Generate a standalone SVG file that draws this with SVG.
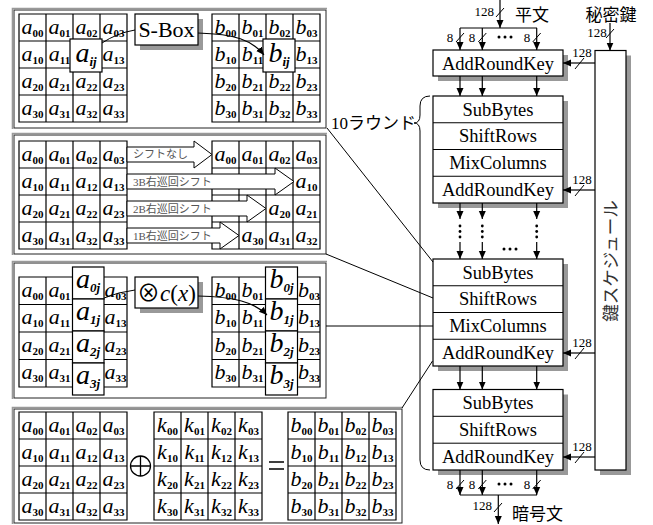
<svg xmlns="http://www.w3.org/2000/svg" width="653" height="525" viewBox="0 0 653 525">
<defs>
<marker id="ah" markerWidth="9" markerHeight="9" refX="8" refY="4" orient="auto" markerUnits="userSpaceOnUse"><path d="M0,0.5 L8,4 L0,7.5 z" fill="#000"/></marker>
<style>
text{font-family:"Liberation Serif","Noto Sans CJK JP",serif;fill:#000}
.cl text{font-size:22px;font-style:italic;text-anchor:middle}
.s{font-size:11px;font-style:normal;font-weight:bold}
.bs{font-size:13px;font-weight:bold}
.cl text.big{font-size:28px}
.grid{fill:none;stroke:#000;stroke-width:1.2}
.frame{fill:#fff;stroke:#222;stroke-width:1}
.frame2{fill:none;stroke:#999;stroke-width:1.6}
.box{fill:#fff;stroke:#000;stroke-width:1.2}
.sh{fill:#999}
.op{font-size:18.5px;text-anchor:middle}
.n{font-size:13px}
.ln{fill:none;stroke:#000;stroke-width:1}
.ar{fill:none;stroke:#000;stroke-width:1.2;marker-end:url(#ah)}
.jp{font-family:"Noto Sans CJK JP",sans-serif}
.sa{fill:#fff;stroke:#000;stroke-width:1}
.st{font-size:11px;fill:#555}
.dot{fill:#000}
</style>
</defs>

<!-- Panel 1: SubBytes -->
<g id="panel-subbytes">
<rect class="frame" x="14" y="10" width="312" height="118"/>
<path class="frame2" d="M12.5,129 V8.5 H327"/>
<path class="grid" d="M19,14h108v108h-108z M46,14v108 M73,14v108 M100,14v108 M19,41h108 M19,68h108 M19,95h108"/>
<path class="grid" d="M212,14h108v108h-108z M239,14v108 M266,14v108 M293,14v108 M212,41h108 M212,68h108 M212,95h108"/>
<g class="cl">
<text x="32.5" y="33.5">a<tspan class="s" dy="3">00</tspan></text>
<text x="59.5" y="33.5">a<tspan class="s" dy="3">01</tspan></text>
<text x="86.5" y="33.5">a<tspan class="s" dy="3">02</tspan></text>
<text x="113.5" y="33.5">a<tspan class="s" dy="3">03</tspan></text>
<text x="32.5" y="60.5">a<tspan class="s" dy="3">10</tspan></text>
<text x="59.5" y="60.5">a<tspan class="s" dy="3">11</tspan></text>
<text x="113.5" y="60.5">a<tspan class="s" dy="3">13</tspan></text>
<text x="32.5" y="87.5">a<tspan class="s" dy="3">20</tspan></text>
<text x="59.5" y="87.5">a<tspan class="s" dy="3">21</tspan></text>
<text x="86.5" y="87.5">a<tspan class="s" dy="3">22</tspan></text>
<text x="113.5" y="87.5">a<tspan class="s" dy="3">23</tspan></text>
<text x="32.5" y="114.5">a<tspan class="s" dy="3">30</tspan></text>
<text x="59.5" y="114.5">a<tspan class="s" dy="3">31</tspan></text>
<text x="86.5" y="114.5">a<tspan class="s" dy="3">32</tspan></text>
<text x="113.5" y="114.5">a<tspan class="s" dy="3">33</tspan></text>
<text x="225.5" y="33.5">b<tspan class="s" dy="3">00</tspan></text>
<text x="252.5" y="33.5">b<tspan class="s" dy="3">01</tspan></text>
<text x="279.5" y="33.5">b<tspan class="s" dy="3">02</tspan></text>
<text x="306.5" y="33.5">b<tspan class="s" dy="3">03</tspan></text>
<text x="225.5" y="60.5">b<tspan class="s" dy="3">10</tspan></text>
<text x="252.5" y="60.5">b<tspan class="s" dy="3">11</tspan></text>
<text x="306.5" y="60.5">b<tspan class="s" dy="3">13</tspan></text>
<text x="225.5" y="87.5">b<tspan class="s" dy="3">20</tspan></text>
<text x="252.5" y="87.5">b<tspan class="s" dy="3">21</tspan></text>
<text x="279.5" y="87.5">b<tspan class="s" dy="3">22</tspan></text>
<text x="306.5" y="87.5">b<tspan class="s" dy="3">23</tspan></text>
<text x="225.5" y="114.5">b<tspan class="s" dy="3">30</tspan></text>
<text x="252.5" y="114.5">b<tspan class="s" dy="3">31</tspan></text>
<text x="279.5" y="114.5">b<tspan class="s" dy="3">32</tspan></text>
<text x="306.5" y="114.5">b<tspan class="s" dy="3">33</tspan></text>
<rect class="box" x="70" y="39" width="32" height="33"/>
<text class="big" x="86" y="62">a<tspan class="bs" dy="4">ij</tspan></text>
<rect class="box" x="263" y="39" width="32" height="33"/>
<text class="big" x="279" y="62">b<tspan class="bs" dy="4">ij</tspan></text>
</g>
<rect class="sh" x="140" y="19" width="63" height="31"/>
<rect class="box" x="135" y="14" width="63" height="31"/>
<text x="166.5" y="37" style="font-size:22px;text-anchor:middle">S-Box</text>
<path class="ln" d="M102,43 Q117,33 135,30"/>
<path class="ar" d="M198,33 C235,34 252,40 264,55"/>
</g>

<!-- Panel 2: ShiftRows -->
<g id="panel-shiftrows">
<rect class="frame" x="14" y="135" width="312" height="119"/>
<path class="frame2" d="M12.5,255 V133.5 H327"/>
<path class="grid" d="M19,141h108v108h-108z M46,141v108 M73,141v108 M100,141v108 M19,168h108 M19,195h108 M19,222h108"/>
<path class="grid" d="M212,141h108v108h-108z M239,141v108 M266,141v108 M293,141v108 M212,168h108 M212,195h108 M212,222h108"/>
<g class="cl">
<text x="32.5" y="160.5">a<tspan class="s" dy="3">00</tspan></text>
<text x="59.5" y="160.5">a<tspan class="s" dy="3">01</tspan></text>
<text x="86.5" y="160.5">a<tspan class="s" dy="3">02</tspan></text>
<text x="113.5" y="160.5">a<tspan class="s" dy="3">03</tspan></text>
<text x="32.5" y="187.5">a<tspan class="s" dy="3">10</tspan></text>
<text x="59.5" y="187.5">a<tspan class="s" dy="3">11</tspan></text>
<text x="86.5" y="187.5">a<tspan class="s" dy="3">12</tspan></text>
<text x="113.5" y="187.5">a<tspan class="s" dy="3">13</tspan></text>
<text x="32.5" y="214.5">a<tspan class="s" dy="3">20</tspan></text>
<text x="59.5" y="214.5">a<tspan class="s" dy="3">21</tspan></text>
<text x="86.5" y="214.5">a<tspan class="s" dy="3">22</tspan></text>
<text x="113.5" y="214.5">a<tspan class="s" dy="3">23</tspan></text>
<text x="32.5" y="241.5">a<tspan class="s" dy="3">30</tspan></text>
<text x="59.5" y="241.5">a<tspan class="s" dy="3">31</tspan></text>
<text x="86.5" y="241.5">a<tspan class="s" dy="3">32</tspan></text>
<text x="113.5" y="241.5">a<tspan class="s" dy="3">33</tspan></text>
<text x="225.5" y="160.5">a<tspan class="s" dy="3">00</tspan></text>
<text x="252.5" y="160.5">a<tspan class="s" dy="3">01</tspan></text>
<text x="279.5" y="160.5">a<tspan class="s" dy="3">02</tspan></text>
<text x="306.5" y="160.5">a<tspan class="s" dy="3">03</tspan></text>
<text x="306.5" y="187.5">a<tspan class="s" dy="3">10</tspan></text>
<text x="279.5" y="214.5">a<tspan class="s" dy="3">20</tspan></text>
<text x="306.5" y="214.5">a<tspan class="s" dy="3">21</tspan></text>
<text x="252.5" y="241.5">a<tspan class="s" dy="3">30</tspan></text>
<text x="279.5" y="241.5">a<tspan class="s" dy="3">31</tspan></text>
<text x="306.5" y="241.5">a<tspan class="s" dy="3">32</tspan></text>
</g>
<polygon class="sa" points="127,147 194,147 194,141 212,154.5 194,168 194,162 127,162"/>
<polygon class="sa" points="127,174 275,174 275,168 294,181.5 275,195 275,189 127,189"/>
<polygon class="sa" points="127,201 247,201 247,195 266,208.5 247,222 247,216 127,216"/>
<polygon class="sa" points="127,228 220,228 220,222 239,235.5 220,249 220,243 127,243"/>
<text class="st jp" x="133" y="158">シフトなし</text>
<text class="st" x="133" y="185.5">3B<tspan class="jp">右巡回シフト</tspan></text>
<text class="st" x="133" y="212.5">2B<tspan class="jp">右巡回シフト</tspan></text>
<text class="st" x="133" y="239.5">1B<tspan class="jp">右巡回シフト</tspan></text>
</g>

<!-- Panel 3: MixColumns -->
<g id="panel-mixcolumns">
<rect class="frame" x="14" y="263" width="312" height="135"/>
<path class="frame2" d="M12.5,399 V261.5 H327"/>
<path class="grid" d="M19,277h108v110h-108z M46,277v110 M73,277v110 M100,277v110 M19,304.5h108 M19,332h108 M19,359.5h108"/>
<path class="grid" d="M212,277h108v110h-108z M239,277v110 M266,277v110 M293,277v110 M212,304.5h108 M212,332h108 M212,359.5h108"/>
<g class="cl">
<text x="32.5" y="296.5">a<tspan class="s" dy="3">00</tspan></text>
<text x="59.5" y="296.5">a<tspan class="s" dy="3">01</tspan></text>
<text x="115.5" y="296.5">a<tspan class="s" dy="3">03</tspan></text>
<text x="32.5" y="324">a<tspan class="s" dy="3">10</tspan></text>
<text x="59.5" y="324">a<tspan class="s" dy="3">11</tspan></text>
<text x="115.5" y="324">a<tspan class="s" dy="3">13</tspan></text>
<text x="32.5" y="351.5">a<tspan class="s" dy="3">20</tspan></text>
<text x="59.5" y="351.5">a<tspan class="s" dy="3">21</tspan></text>
<text x="115.5" y="351.5">a<tspan class="s" dy="3">23</tspan></text>
<text x="32.5" y="379">a<tspan class="s" dy="3">30</tspan></text>
<text x="59.5" y="379">a<tspan class="s" dy="3">31</tspan></text>
<text x="115.5" y="379">a<tspan class="s" dy="3">33</tspan></text>
<text x="225.5" y="296.5">b<tspan class="s" dy="3">00</tspan></text>
<text x="252.5" y="296.5">b<tspan class="s" dy="3">01</tspan></text>
<text x="309" y="296.5">b<tspan class="s" dy="3">03</tspan></text>
<text x="225.5" y="324">b<tspan class="s" dy="3">10</tspan></text>
<text x="252.5" y="324">b<tspan class="s" dy="3">11</tspan></text>
<text x="309" y="324">b<tspan class="s" dy="3">13</tspan></text>
<text x="225.5" y="351.5">b<tspan class="s" dy="3">20</tspan></text>
<text x="252.5" y="351.5">b<tspan class="s" dy="3">21</tspan></text>
<text x="309" y="351.5">b<tspan class="s" dy="3">23</tspan></text>
<text x="225.5" y="379">b<tspan class="s" dy="3">30</tspan></text>
<text x="252.5" y="379">b<tspan class="s" dy="3">31</tspan></text>
<text x="309" y="379">b<tspan class="s" dy="3">33</tspan></text>
<rect class="box" x="72.5" y="267" width="31.5" height="32"/>
<rect class="box" x="72.5" y="299" width="31.5" height="32"/>
<rect class="box" x="72.5" y="331" width="31.5" height="32"/>
<rect class="box" x="72.5" y="363" width="31.5" height="32"/>
<text class="big" x="88" y="288">a<tspan class="bs" dy="4">0j</tspan></text>
<text class="big" x="88" y="320">a<tspan class="bs" dy="4">1j</tspan></text>
<text class="big" x="88" y="352">a<tspan class="bs" dy="4">2j</tspan></text>
<text class="big" x="88" y="384">a<tspan class="bs" dy="4">3j</tspan></text>
<rect class="box" x="265.5" y="267" width="32" height="32"/>
<rect class="box" x="265.5" y="299" width="32" height="32"/>
<rect class="box" x="265.5" y="331" width="32" height="32"/>
<rect class="box" x="265.5" y="363" width="32" height="32"/>
<text class="big" x="281.5" y="288">b<tspan class="bs" dy="4">0j</tspan></text>
<text class="big" x="281.5" y="320">b<tspan class="bs" dy="4">1j</tspan></text>
<text class="big" x="281.5" y="352">b<tspan class="bs" dy="4">2j</tspan></text>
<text class="big" x="281.5" y="384">b<tspan class="bs" dy="4">3j</tspan></text>
</g>
<rect class="sh" x="140" y="282" width="63" height="31"/>
<rect class="box" x="135" y="277" width="63" height="31"/>
<text x="166.5" y="301" style="font-size:23px;text-anchor:middle">⊗<tspan font-style="italic">c</tspan>(<tspan font-style="italic">x</tspan>)</text>
<path class="ln" d="M104,298 Q118,292 135,290"/>
<path class="ar" d="M198,296 C235,297 254,302 267,315"/>
</g>

<!-- Panel 4: AddRoundKey -->
<g id="panel-addroundkey">
<rect class="frame" x="14" y="409" width="388" height="114"/>
<path class="frame2" d="M12.5,524 V407.5 H403"/>
<path class="grid" d="M19,412h108v108h-108z M46,412v108 M73,412v108 M100,412v108 M19,439h108 M19,466h108 M19,493h108"/>
<path class="grid" d="M154,412h108v108h-108z M181,412v108 M208,412v108 M235,412v108 M154,439h108 M154,466h108 M154,493h108"/>
<path class="grid" d="M288,412h108v108h-108z M315,412v108 M342,412v108 M369,412v108 M288,439h108 M288,466h108 M288,493h108"/>
<g class="cl">
<text x="32.5" y="431.5">a<tspan class="s" dy="3">00</tspan></text>
<text x="59.5" y="431.5">a<tspan class="s" dy="3">01</tspan></text>
<text x="86.5" y="431.5">a<tspan class="s" dy="3">02</tspan></text>
<text x="113.5" y="431.5">a<tspan class="s" dy="3">03</tspan></text>
<text x="32.5" y="458.5">a<tspan class="s" dy="3">10</tspan></text>
<text x="59.5" y="458.5">a<tspan class="s" dy="3">11</tspan></text>
<text x="86.5" y="458.5">a<tspan class="s" dy="3">12</tspan></text>
<text x="113.5" y="458.5">a<tspan class="s" dy="3">13</tspan></text>
<text x="32.5" y="485.5">a<tspan class="s" dy="3">20</tspan></text>
<text x="59.5" y="485.5">a<tspan class="s" dy="3">21</tspan></text>
<text x="86.5" y="485.5">a<tspan class="s" dy="3">22</tspan></text>
<text x="113.5" y="485.5">a<tspan class="s" dy="3">23</tspan></text>
<text x="32.5" y="512.5">a<tspan class="s" dy="3">30</tspan></text>
<text x="59.5" y="512.5">a<tspan class="s" dy="3">31</tspan></text>
<text x="86.5" y="512.5">a<tspan class="s" dy="3">32</tspan></text>
<text x="113.5" y="512.5">a<tspan class="s" dy="3">33</tspan></text>
<text x="167.5" y="431.5">k<tspan class="s" dy="3">00</tspan></text>
<text x="194.5" y="431.5">k<tspan class="s" dy="3">01</tspan></text>
<text x="221.5" y="431.5">k<tspan class="s" dy="3">02</tspan></text>
<text x="248.5" y="431.5">k<tspan class="s" dy="3">03</tspan></text>
<text x="167.5" y="458.5">k<tspan class="s" dy="3">10</tspan></text>
<text x="194.5" y="458.5">k<tspan class="s" dy="3">11</tspan></text>
<text x="221.5" y="458.5">k<tspan class="s" dy="3">12</tspan></text>
<text x="248.5" y="458.5">k<tspan class="s" dy="3">13</tspan></text>
<text x="167.5" y="485.5">k<tspan class="s" dy="3">20</tspan></text>
<text x="194.5" y="485.5">k<tspan class="s" dy="3">21</tspan></text>
<text x="221.5" y="485.5">k<tspan class="s" dy="3">22</tspan></text>
<text x="248.5" y="485.5">k<tspan class="s" dy="3">23</tspan></text>
<text x="167.5" y="512.5">k<tspan class="s" dy="3">30</tspan></text>
<text x="194.5" y="512.5">k<tspan class="s" dy="3">31</tspan></text>
<text x="221.5" y="512.5">k<tspan class="s" dy="3">32</tspan></text>
<text x="248.5" y="512.5">k<tspan class="s" dy="3">33</tspan></text>
<text x="301.5" y="431.5">b<tspan class="s" dy="3">00</tspan></text>
<text x="328.5" y="431.5">b<tspan class="s" dy="3">01</tspan></text>
<text x="355.5" y="431.5">b<tspan class="s" dy="3">02</tspan></text>
<text x="382.5" y="431.5">b<tspan class="s" dy="3">03</tspan></text>
<text x="301.5" y="458.5">b<tspan class="s" dy="3">10</tspan></text>
<text x="328.5" y="458.5">b<tspan class="s" dy="3">11</tspan></text>
<text x="355.5" y="458.5">b<tspan class="s" dy="3">12</tspan></text>
<text x="382.5" y="458.5">b<tspan class="s" dy="3">13</tspan></text>
<text x="301.5" y="485.5">b<tspan class="s" dy="3">20</tspan></text>
<text x="328.5" y="485.5">b<tspan class="s" dy="3">21</tspan></text>
<text x="355.5" y="485.5">b<tspan class="s" dy="3">22</tspan></text>
<text x="382.5" y="485.5">b<tspan class="s" dy="3">23</tspan></text>
<text x="301.5" y="512.5">b<tspan class="s" dy="3">30</tspan></text>
<text x="328.5" y="512.5">b<tspan class="s" dy="3">31</tspan></text>
<text x="355.5" y="512.5">b<tspan class="s" dy="3">32</tspan></text>
<text x="382.5" y="512.5">b<tspan class="s" dy="3">33</tspan></text>
</g>
<circle cx="140.5" cy="466" r="10" fill="none" stroke="#000" stroke-width="1.3"/>
<path d="M130.5,466 h20 M140.5,456 v20" stroke="#000" stroke-width="1.3"/>
<path d="M269,462 h15 M269,469 h15" stroke="#000" stroke-width="1.6"/>
</g>

<!-- Right column nodes -->
<g id="input">
<text x="494" y="16" class="n" text-anchor="end">128</text>
<text x="515" y="21" class="jp" style="font-size:17px">平文</text>
<text x="450" y="42" class="n" text-anchor="middle">8</text>
<text x="472" y="42" class="n" text-anchor="middle">8</text>
<text x="527" y="42" class="n" text-anchor="middle">8</text>
<circle class="dot" cx="499" cy="37" r="1.5"/><circle class="dot" cx="505" cy="37" r="1.5"/><circle class="dot" cx="511" cy="37" r="1.5"/>
</g>
<g id="key">
<text x="611" y="21" class="jp" style="font-size:17px;text-anchor:middle">秘密鍵</text>
<text x="597" y="37" class="n" text-anchor="middle">128</text>
</g>
<g id="ark0">
<rect class="sh" x="438" y="55" width="130" height="26"/>
<rect class="box" x="433" y="50" width="130" height="26"/>
<text class="op" x="498" y="69.5">AddRoundKey</text>
</g>
<g id="round1">
<rect class="sh" x="438" y="101" width="130" height="107"/>
<rect class="box" x="433" y="96" width="130" height="107"/>
<path class="ln" d="M433,122.75h130 M433,149.5h130 M433,176.25h130"/>
<text class="op" x="498" y="115.5">SubBytes</text>
<text class="op" x="498" y="142.3">ShiftRows</text>
<text class="op" x="498" y="169">MixColumns</text>
<text class="op" x="498" y="196">AddRoundKey</text>
</g>
<g id="round2">
<rect class="sh" x="438" y="264" width="130" height="107"/>
<rect class="box" x="433" y="259" width="130" height="107"/>
<path class="ln" d="M433,285.75h130 M433,312.5h130 M433,339.25h130"/>
<text class="op" x="498" y="278.5">SubBytes</text>
<text class="op" x="498" y="305.3">ShiftRows</text>
<text class="op" x="498" y="332">MixColumns</text>
<text class="op" x="498" y="359">AddRoundKey</text>
</g>
<g id="round-final">
<rect class="sh" x="438" y="394.5" width="130" height="80.5"/>
<rect class="box" x="433" y="389.5" width="130" height="80.5"/>
<path class="ln" d="M433,416.3h130 M433,443.2h130"/>
<text class="op" x="498" y="409">SubBytes</text>
<text class="op" x="498" y="436">ShiftRows</text>
<text class="op" x="498" y="463">AddRoundKey</text>
</g>
<g id="keyschedule">
<rect class="sh" x="600" y="55.5" width="31" height="419.5"/>
<rect class="box" x="595" y="50.5" width="31" height="419.5"/>
<text class="jp" transform="translate(617,261) rotate(-90)" style="font-size:17.5px;text-anchor:middle;fill:#333">鍵スケジュール</text>
</g>
<g id="rounds-label">
<text x="416" y="129" style="font-size:17px;text-anchor:end">10<tspan class="jp">ラウンド</tspan></text>
<path class="ln" d="M430,96 Q420,96 420,106 L420,115 Q420,123 414,123 Q420,123 420,131 L420,460 Q420,470 430,470"/>
</g>
<g id="output">
<text x="450" y="489" class="n" text-anchor="middle">8</text>
<text x="472" y="489" class="n" text-anchor="middle">8</text>
<text x="527" y="489" class="n" text-anchor="middle">8</text>
<circle class="dot" cx="499" cy="484" r="1.5"/><circle class="dot" cx="505" cy="484" r="1.5"/><circle class="dot" cx="511" cy="484" r="1.5"/>
<text x="492" y="510" class="n" text-anchor="end">128</text>
<text x="512" y="520" class="jp" style="font-size:17px">暗号文</text>
</g>

<!-- Connectors -->
<g id="connectors">
<path class="ar" d="M500,0 V28"/>
<path class="ln" d="M496,17 L504,8"/>
<path class="ln" d="M460,28 H537"/>
<path class="ar" d="M460,28 V50"/>
<path class="ar" d="M482.3,28 V50"/>
<path class="ar" d="M536.7,28 V50"/>
<path class="ln" d="M456,42 L464,33 M478.3,42 L486.3,33 M532.7,42 L540.7,33"/>
<path class="ar" d="M610,23 V50.5"/>
<path class="ln" d="M606,38 L614,29"/>
<path class="ar" d="M460,76 V96"/>
<path class="ar" d="M482.3,76 V96"/>
<path class="ar" d="M536.7,76 V96"/>
<path class="ar" d="M595,63 H563"/>
<path class="ln" d="M575,69 L584,58"/>
<text x="582" y="57" class="n" text-anchor="middle">128</text>
<path class="ar" d="M595,190 H563"/>
<path class="ln" d="M575,196 L584,185"/>
<text x="582" y="184" class="n" text-anchor="middle">128</text>
<path class="ar" d="M595,353 H563"/>
<path class="ln" d="M575,359 L584,348"/>
<text x="582" y="347" class="n" text-anchor="middle">128</text>
<path class="ar" d="M595,457 H563"/>
<path class="ln" d="M575,463 L584,452"/>
<text x="582" y="451" class="n" text-anchor="middle">128</text>
<path class="ar" d="M460,203 V219"/>
<path class="ar" d="M482.3,203 V219"/>
<path class="ar" d="M536.7,203 V219"/>
<circle class="dot" cx="460" cy="226" r="1.4"/><circle class="dot" cx="460" cy="231.5" r="1.4"/><circle class="dot" cx="460" cy="237" r="1.4"/>
<circle class="dot" cx="482.3" cy="226" r="1.4"/><circle class="dot" cx="482.3" cy="231.5" r="1.4"/><circle class="dot" cx="482.3" cy="237" r="1.4"/>
<circle class="dot" cx="536.7" cy="226" r="1.4"/><circle class="dot" cx="536.7" cy="231.5" r="1.4"/><circle class="dot" cx="536.7" cy="237" r="1.4"/>
<path class="ar" d="M460,242 V259"/>
<path class="ar" d="M482.3,242 V259"/>
<path class="ar" d="M536.7,242 V259"/>
<circle class="dot" cx="504" cy="249" r="1.5"/><circle class="dot" cx="510" cy="249" r="1.5"/><circle class="dot" cx="516" cy="249" r="1.5"/>
<path class="ar" d="M460,366 V389.5"/>
<path class="ar" d="M482.3,366 V389.5"/>
<path class="ar" d="M536.7,366 V389.5"/>
<path class="ar" d="M460,470 V495"/>
<path class="ar" d="M482.3,470 V495"/>
<path class="ar" d="M536.7,470 V495"/>
<path class="ln" d="M456,489 L464,480 M478.3,489 L486.3,480 M532.7,489 L540.7,480"/>
<path class="ln" d="M460,495 H537"/>
<path class="ar" d="M498.3,495 V524"/>
<path class="ln" d="M494,512 L502,503"/>
<path class="ln" d="M327,128 L433,262"/>
<path class="ln" d="M326,254 L433,298"/>
<path class="ln" d="M326,326 H433"/>
<path class="ln" d="M402,408 L432.5,361"/>
</g>
</svg>
